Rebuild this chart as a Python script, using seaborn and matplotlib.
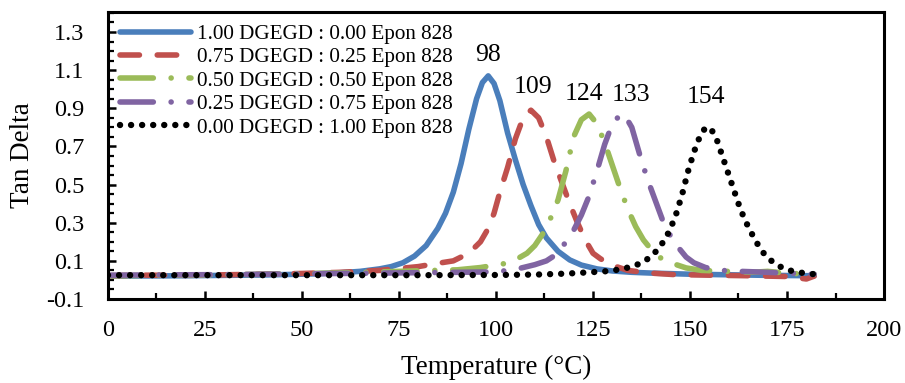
import matplotlib
matplotlib.use("Agg")
import matplotlib.pyplot as plt
from matplotlib.ticker import MultipleLocator, FixedLocator
import pandas as pd
import seaborn as sns

# Tan delta vs temperature for DGEGD / Epon 828 blends
blend_labels = [
    "1.00 DGEGD : 0.00 Epon 828",
    "0.75 DGEGD : 0.25 Epon 828",
    "0.50 DGEGD : 0.50 Epon 828",
    "0.25 DGEGD : 0.75 Epon 828",
    "0.00 DGEGD : 1.00 Epon 828",
]

peak_temps = [98, 109, 124, 133, 154]

temp_100 = [0, 10, 20, 30, 40, 50, 55, 60, 65, 70, 73, 76, 79, 82, 85, 87, 89, 91, 93, 95,
            96.5, 98, 99.5, 101, 103, 105, 107, 109, 111, 113, 116, 119, 122, 126, 130, 135,
            140, 150, 160, 170, 182]
tan_100 = [0.020, 0.021, 0.022, 0.024, 0.026, 0.030, 0.033, 0.038, 0.045, 0.058, 0.070, 0.090,
           0.125, 0.180, 0.270, 0.350, 0.460, 0.610, 0.790, 0.950, 1.035, 1.070, 1.030, 0.940,
           0.770, 0.630, 0.500, 0.390, 0.290, 0.220, 0.150, 0.105, 0.078, 0.058, 0.047, 0.040,
           0.036, 0.030, 0.027, 0.024, 0.022]

temp_75 = [0, 10, 20, 30, 40, 50, 60, 70, 75, 80, 84, 89, 92, 94, 96, 98, 99.5, 101, 103, 105,
           107, 109, 111, 113, 115, 117, 119, 121, 123, 125, 127, 129, 131, 134, 139, 146, 155,
           165, 175, 180, 182]
tan_75 = [0.022, 0.025, 0.024, 0.027, 0.030, 0.034, 0.040, 0.050, 0.060, 0.070, 0.084, 0.100,
          0.130, 0.160, 0.200, 0.270, 0.350, 0.460, 0.590, 0.740, 0.850, 0.890, 0.850, 0.750,
          0.620, 0.510, 0.400, 0.300, 0.210, 0.140, 0.110, 0.090, 0.070, 0.050, 0.037, 0.028,
          0.025, 0.022, 0.018, 0.005, 0.020]

temp_50 = [0, 10, 20, 30, 40, 50, 60, 70, 80, 90, 96, 102, 105, 108, 110, 112, 114, 116, 118,
           120, 122, 124, 126, 128, 130, 132, 134, 136, 138, 140, 142, 145, 149, 153, 160, 166,
           170, 175, 182]
tan_50 = [0.022, 0.024, 0.025, 0.027, 0.030, 0.033, 0.037, 0.042, 0.048, 0.053, 0.065, 0.085,
          0.105, 0.140, 0.180, 0.240, 0.320, 0.420, 0.570, 0.750, 0.840, 0.870, 0.820, 0.720,
          0.600, 0.480, 0.370, 0.280, 0.210, 0.160, 0.120, 0.090, 0.063, 0.050, 0.045, 0.040,
          0.045, 0.035, 0.030]

temp_25 = [0, 10, 20, 30, 40, 50, 60, 70, 80, 90, 98, 104, 110, 113, 116, 118, 120, 122, 124,
           126, 128, 130, 132, 133, 135, 137, 139, 141, 143, 145, 147, 149, 151, 154, 158, 163,
           170, 176, 182]
tan_25 = [0.025, 0.026, 0.027, 0.028, 0.030, 0.032, 0.034, 0.036, 0.038, 0.040, 0.042, 0.050,
          0.080, 0.100, 0.140, 0.200, 0.260, 0.340, 0.440, 0.570, 0.710, 0.820, 0.865, 0.870,
          0.800, 0.660, 0.530, 0.420, 0.310, 0.230, 0.170, 0.120, 0.090, 0.065, 0.050, 0.045,
          0.040, 0.035, 0.030]

temp_0 = [0, 20, 40, 60, 80, 100, 110, 118, 124, 128, 132, 135, 137, 139.5, 141.5, 143.5, 145,
          146.5, 148, 149.5, 151, 152.5, 154, 155.5, 157, 158.5, 160, 161.5, 163, 164.5, 166,
          167.5, 169, 171, 173, 175, 177, 179, 182]
tan_0 = [0.025, 0.025, 0.025, 0.025, 0.025, 0.026, 0.028, 0.033, 0.040, 0.045, 0.055, 0.070,
         0.085, 0.115, 0.155, 0.210, 0.270, 0.350, 0.450, 0.570, 0.670, 0.750, 0.800, 0.790,
         0.730, 0.640, 0.550, 0.460, 0.370, 0.300, 0.240, 0.185, 0.140, 0.100, 0.072, 0.054,
         0.043, 0.037, 0.030]

series = [
    (temp_100, tan_100, "#4A7EBB", "-", 4.0),
    (temp_75, tan_75, "#C0504D", (0, (3.5, 3.2)), 4.0),
    (temp_50, tan_50, "#9BBB59", (0, (6.0, 3.2, 0.01, 3.2)), 4.0),
    (temp_25, tan_25, "#8064A2", (0, (6.0, 3.2, 0.01, 3.2)), 4.0),
    (temp_0, tan_0, "#000000", (0, (0.01, 1.72)), 4.6),
]

# label placement around each peak, in points (dx, dy)
label_offsets = [(0, 15), (1.5, 17), (-3.5, 14.5), (5, 14), (0, 22)]

sns.set_theme(style="white")
plt.rcParams["font.family"] = ["Liberation Serif", "DejaVu Serif"]

fig = plt.figure(figsize=(9.05, 3.83), dpi=100)
ax = fig.add_axes([0.1193, 0.2193, 0.8575, 0.7494])

for (tx, ty, col, ls, lw), lab in zip(series, blend_labels):
    df = pd.DataFrame({"Temperature": tx, "TanDelta": ty})
    sns.lineplot(data=df, x="Temperature", y="TanDelta", ax=ax, color=col,
                 linestyle=ls, linewidth=lw, label=lab, estimator=None, sort=False,
                 dash_capstyle="round", solid_capstyle="round")

# peak temperature annotations
for (tx, ty, *_), pk, off in zip(series, peak_temps, label_offsets):
    peak_val = ty[tx.index(pk)]
    ax.annotate(f"{pk}", xy=(pk, peak_val), xytext=off, textcoords="offset points",
                ha="center", va="center", fontsize=18.5, color="black")

ax.set_xlim(0, 200)
ax.set_ylim(-0.1, 1.405)
ax.xaxis.set_major_locator(MultipleLocator(25))
ax.xaxis.set_minor_locator(MultipleLocator(12.5))
ax.yaxis.set_major_locator(FixedLocator([-0.1, 0.1, 0.3, 0.5, 0.7, 0.9, 1.1, 1.3]))
ax.yaxis.set_minor_locator(MultipleLocator(0.05))
ax.set_yticklabels(["-0.1", "0.1", "0.3", "0.5", "0.7", "0.9", "1.1", "1.3"])

ax.tick_params(axis="both", which="major", direction="in", length=6, width=1.8,
               labelsize=17.5, color="black", labelcolor="black")
ax.tick_params(axis="both", which="minor", direction="in", length=4, width=1.6, color="black")
ax.tick_params(axis="x", which="major", pad=15, bottom=True, top=False)
ax.tick_params(axis="x", which="minor", bottom=True, top=False)
ax.tick_params(axis="y", which="major", pad=17, left=True, right=False)
ax.tick_params(axis="y", which="minor", left=True, right=False)

for sp in ax.spines.values():
    sp.set_visible(True)
    sp.set_color("black")
    sp.set_linewidth(2.2)

ax.set_xlabel("Temperature (°C)", fontsize=19.5, color="black", labelpad=10)
ax.set_ylabel("Tan Delta", fontsize=19.5, color="black", labelpad=8)

leg = ax.legend(loc="upper left", bbox_to_anchor=(0.016, 0.957), frameon=False,
                fontsize=15.2, handlelength=3.35, handletextpad=0.3, labelspacing=0.17,
                borderpad=0, borderaxespad=0)
for t in leg.get_texts():
    t.set_color("black")

fig.savefig("out.png", dpi=100)
